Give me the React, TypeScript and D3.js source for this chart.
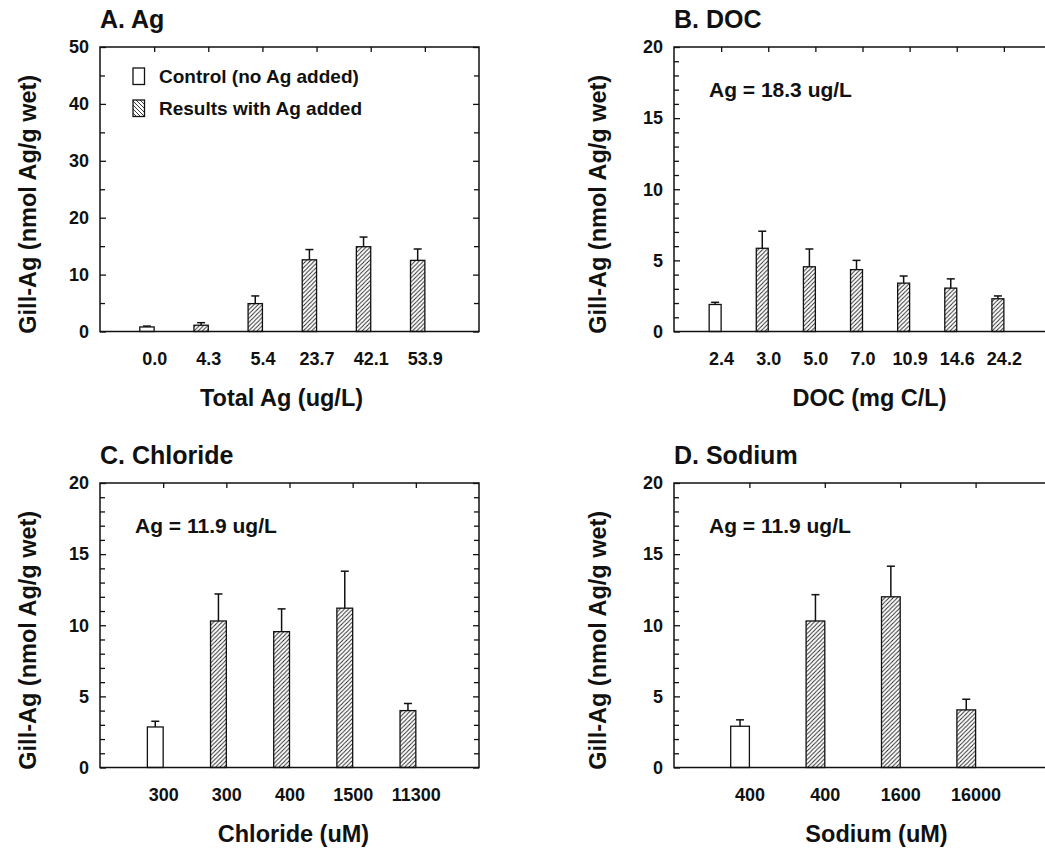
import React, { useEffect, useRef } from 'react';
import * as d3 from 'd3';

// Panel A: total Ag
const agCategories = ['0.0', '4.3', '5.4', '23.7', '42.1', '53.9'];
const agValues = [0.8, 1.1, 4.9, 12.6, 14.9, 12.5];
const agErrors = [0.15, 0.45, 1.35, 1.8, 1.7, 2.0];

// Panel B: DOC
const docCategories = ['2.4', '3.0', '5.0', '7.0', '10.9', '14.6', '24.2'];
const docValues = [1.9, 5.85, 4.55, 4.35, 3.4, 3.05, 2.3];
const docErrors = [0.15, 1.2, 1.25, 0.65, 0.5, 0.65, 0.2];

// Panel C: chloride
const chlorideCategories = ['300', '300', '400', '1500', '11300'];
const chlorideValues = [2.85, 10.3, 9.55, 11.2, 4.0];
const chlorideErrors = [0.4, 1.9, 1.6, 2.6, 0.5];

// Panel D: sodium
const sodiumCategories = ['400', '400', '1600', '16000'];
const sodiumValues = [2.9, 10.3, 12.0, 4.05];
const sodiumErrors = [0.45, 1.85, 2.15, 0.75];

const legendLabels = ['Control (no Ag added)', 'Results with Ag added'];

const FONT = '"Liberation Sans", Arial, Helvetica, sans-serif';
const INK = '#111';

const panels = [
  {
    title: 'A. Ag', xTitle: 'Total Ag (ug/L)', note: null, legend: true,
    categories: agCategories, values: agValues, errors: agErrors,
    yMax: 50, major: 10, minor: 5,
    left: 100, right: 479, top: 47, barFrac: 0.265, xTitleShift: -8, yTitleOff: 64,
  },
  {
    title: 'B. DOC', xTitle: 'DOC (mg C/L)', note: 'Ag = 18.3 ug/L', legend: false,
    categories: docCategories, values: docValues, errors: docErrors,
    yMax: 20, major: 5, minor: 1,
    left: 674, right: 1051, top: 47, barFrac: 0.254, xTitleShift: 7, yTitleOff: 68,
  },
  {
    title: 'C. Chloride', xTitle: 'Chloride (uM)', note: 'Ag = 11.9 ug/L', legend: false,
    categories: chlorideCategories, values: chlorideValues, errors: chlorideErrors,
    yMax: 20, major: 5, minor: 1,
    left: 100, right: 479, top: 483, barFrac: 0.25, xTitleShift: 4, yTitleOff: 64,
  },
  {
    title: 'D. Sodium', xTitle: 'Sodium (uM)', note: 'Ag = 11.9 ug/L', legend: false,
    categories: sodiumCategories, values: sodiumValues, errors: sodiumErrors,
    yMax: 20, major: 5, minor: 1,
    left: 674, right: 1051, top: 483, barFrac: 0.248, xTitleShift: 14, yTitleOff: 68,
  },
];

const PLOT_H = 284.5;

export default function App() {
  const svgRef = useRef<SVGSVGElement | null>(null);

  useEffect(() => {
    if (!svgRef.current) return;
    const svg = d3.select(svgRef.current);
    svg.selectAll('*').remove();

    const defs = svg.append('defs');
    // forward hatch for bars
    const hatch = defs.append('pattern')
      .attr('id', 'hatch')
      .attr('patternUnits', 'userSpaceOnUse')
      .attr('width', 4.2)
      .attr('height', 4.2);
    hatch.append('path')
      .attr('d', 'M0,4.2 L4.2,0 M-1,1 L1,-1 M3.2,5.2 L5.2,3.2')
      .attr('stroke', '#222')
      .attr('stroke-width', 0.9);
    // backward hatch for the legend swatch
    const hatchBack = defs.append('pattern')
      .attr('id', 'hatchBack')
      .attr('patternUnits', 'userSpaceOnUse')
      .attr('width', 4)
      .attr('height', 4);
    hatchBack.append('path')
      .attr('d', 'M0,0 L4,4 M-1,3 L1,5 M3,-1 L5,1')
      .attr('stroke', '#222')
      .attr('stroke-width', 0.9);

    panels.forEach(p => {
      const bottom = p.top + PLOT_H;
      const g = svg.append('g');

      const x = d3.scalePoint<number>()
        .domain(d3.range(p.categories.length))
        .range([p.left, p.right])
        .padding(1);
      const y = d3.scaleLinear().domain([0, p.yMax]).range([bottom, p.top]);

      const step = x.step();
      const barW = step * p.barFrac;

      // bars
      g.selectAll('rect.bar')
        .data(p.values)
        .enter()
        .append('rect')
        .attr('class', 'bar')
        .attr('x', (d, i) => (x(i) as number) - barW)
        .attr('y', d => y(d))
        .attr('width', barW)
        .attr('height', d => bottom - y(d))
        .attr('fill', (d, i) => (i === 0 ? '#fff' : 'url(#hatch)'))
        .attr('stroke', INK)
        .attr('stroke-width', 1.3);

      // error bars
      p.values.forEach((v, i) => {
        const cx = (x(i) as number) - barW / 2;
        const yTop = y(v + p.errors[i]);
        g.append('line')
          .attr('x1', cx).attr('x2', cx)
          .attr('y1', y(v)).attr('y2', yTop)
          .attr('stroke', INK).attr('stroke-width', 1.5);
        g.append('line')
          .attr('x1', cx - 4).attr('x2', cx + 4)
          .attr('y1', yTop).attr('y2', yTop)
          .attr('stroke', INK).attr('stroke-width', 1.5);
      });

      const majors = d3.range(0, p.yMax + 0.001, p.major);
      const minors = d3.range(0, p.yMax + 0.001, p.minor).filter(v => v % p.major !== 0);

      // left axis with labels
      const leftAxis = g.append('g')
        .attr('transform', `translate(${p.left},0)`)
        .call(d3.axisLeft(y).tickValues(majors).tickSizeInner(-6).tickSizeOuter(0).tickPadding(11));
      leftAxis.select('.domain').remove();
      leftAxis.selectAll('text')
        .attr('font-family', FONT)
        .attr('font-weight', 'bold')
        .attr('font-size', 18)
        .attr('fill', INK);

      const leftMinor = g.append('g')
        .attr('transform', `translate(${p.left},0)`)
        .call(d3.axisLeft(y).tickValues(minors).tickSizeInner(-5).tickSizeOuter(0).tickFormat(() => ''));
      leftMinor.select('.domain').remove();

      // right axis mirrored ticks
      const rightAxis = g.append('g')
        .attr('transform', `translate(${p.right},0)`)
        .call(d3.axisRight(y).tickValues(majors).tickSizeInner(-6).tickSizeOuter(0).tickFormat(() => ''));
      rightAxis.select('.domain').remove();
      const rightMinor = g.append('g')
        .attr('transform', `translate(${p.right},0)`)
        .call(d3.axisRight(y).tickValues(minors).tickSizeInner(-5).tickSizeOuter(0).tickFormat(() => ''));
      rightMinor.select('.domain').remove();

      // top axis ticks at categories
      const topAxis = g.append('g')
        .attr('transform', `translate(0,${p.top})`)
        .call(d3.axisTop(x).tickSizeInner(-5).tickSizeOuter(0).tickFormat(() => ''));
      topAxis.select('.domain').remove();

      // bottom category labels
      const bottomAxis = g.append('g')
        .attr('transform', `translate(0,${bottom})`)
        .call(d3.axisBottom(x).tickSize(0).tickPadding(21).tickFormat(i => p.categories[i as number]));
      bottomAxis.select('.domain').remove();
      bottomAxis.selectAll('text')
        .attr('font-family', FONT)
        .attr('font-weight', 'bold')
        .attr('font-size', 18)
        .attr('fill', INK);

      g.selectAll('.tick line').attr('stroke', INK).attr('stroke-width', 1.3);

      // frame
      g.append('rect')
        .attr('x', p.left)
        .attr('y', p.top)
        .attr('width', p.right - p.left)
        .attr('height', PLOT_H)
        .attr('fill', 'none')
        .attr('stroke', INK)
        .attr('stroke-width', 1.5);

      // panel title
      g.append('text')
        .attr('x', p.left)
        .attr('y', p.top - 19)
        .attr('font-family', FONT)
        .attr('font-weight', 'bold')
        .attr('font-size', 25)
        .attr('fill', INK)
        .text(p.title);

      // axis titles
      g.append('text')
        .attr('x', (p.left + p.right) / 2 + p.xTitleShift)
        .attr('y', bottom + 74)
        .attr('text-anchor', 'middle')
        .attr('font-family', FONT)
        .attr('font-weight', 'bold')
        .attr('font-size', 23.5)
        .attr('fill', INK)
        .text(p.xTitle);

      g.append('text')
        .attr('transform', `translate(${p.left - p.yTitleOff},${(p.top + bottom) / 2 + 15}) rotate(-90)`)
        .attr('text-anchor', 'middle')
        .attr('font-family', FONT)
        .attr('font-weight', 'bold')
        .attr('font-size', 23.5)
        .attr('fill', INK)
        .text('Gill-Ag (nmol Ag/g wet)');

      if (p.note) {
        g.append('text')
          .attr('x', p.left + 35)
          .attr('y', p.top + 50)
          .attr('font-family', FONT)
          .attr('font-weight', 'bold')
          .attr('font-size', 21)
          .attr('fill', INK)
          .text(p.note);
      }

      if (p.legend) {
        legendLabels.forEach((label, i) => {
          const ly = p.top + 21 + i * 32;
          g.append('rect')
            .attr('x', p.left + 33)
            .attr('y', ly)
            .attr('width', 11.5)
            .attr('height', 16.5)
            .attr('fill', i === 0 ? '#fff' : 'url(#hatchBack)')
            .attr('stroke', INK)
            .attr('stroke-width', 1.3);
          g.append('text')
            .attr('x', p.left + 59)
            .attr('y', ly + 15)
            .attr('font-family', FONT)
            .attr('font-weight', 'bold')
            .attr('font-size', 19)
            .attr('fill', INK)
            .text(label);
        });
      }
    });
  }, []);

  return (
    <svg
      ref={svgRef}
      width={1045}
      height={851}
      style={{ position: 'absolute', left: 0, top: 0, background: '#fff' }}
    />
  );
}
